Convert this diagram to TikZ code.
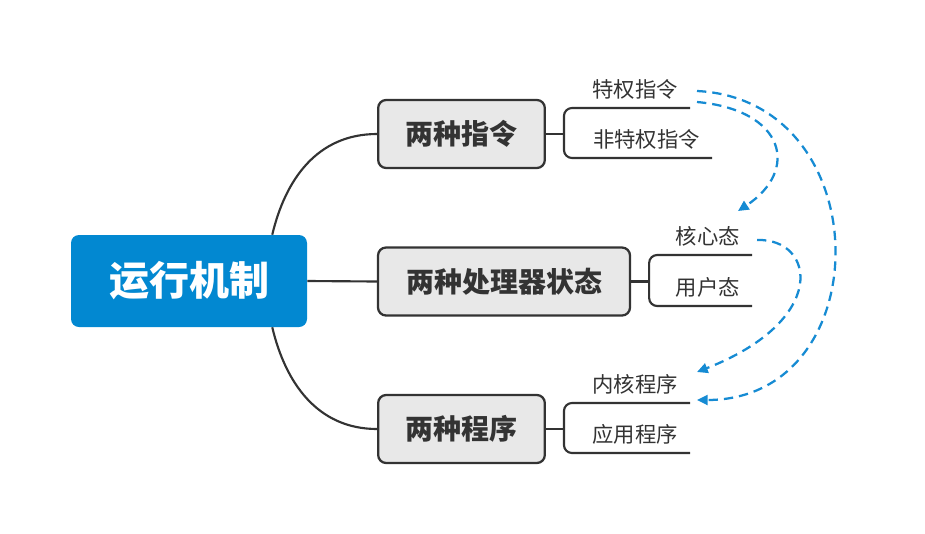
\documentclass[tikz,border=0pt]{standalone}
\usepackage{fontspec}
\setmainfont{Noto Sans CJK SC}
\usetikzlibrary{arrows.meta,calc}
\definecolor{rootblue}{HTML}{0288D1}
\definecolor{arrowblue}{HTML}{168BD3}
\definecolor{boxgray}{HTML}{E8E8E8}
\definecolor{linegray}{HTML}{333333}
\definecolor{textgray}{HTML}{333333}

\begin{document}
\begin{tikzpicture}[x=0.75pt,y=-0.75pt,
 root/.style={rounded corners=6pt,fill=rootblue,text=white,minimum width=177pt,minimum height=69pt,font=\fontsize{30}{32}\selectfont\bfseries},
 box/.style={rounded corners=6pt,draw=linegray,line width=1.7pt,fill=boxgray,minimum height=51pt,text=textgray,font=\fontsize{21}{24}\selectfont\bfseries},
 leaf/.style={anchor=south east,inner xsep=9pt,inner ysep=6.5pt,text=textgray,font=\fontsize{16}{18}\selectfont},
 ln/.style={line width=1.6pt,draw=linegray},
 dsh/.style={-{Triangle[length=8pt,width=7.5pt]},line width=1.7pt,dash pattern=on 7pt off 4.5pt,arrowblue}]
\useasboundingbox (0,0) rectangle (925,533);

\node[root] (root) at (189,281) {运行机制};
\node[box,minimum width=125pt] (b1) at (461.5,134) {两种指令};
\node[box,minimum width=189pt] (b2) at (504,281.5) {两种处理器状态};
\node[box,minimum width=125pt] (b3) at (461.5,429) {两种程序};

\draw[ln] ($(root.north east)+(-35,0)$) .. controls +(13,-55) and +(-60,0) .. (b1.west);
\draw[ln] (root.east) -- (b2.west);
\draw[ln] ($(root.south east)+(-35,0)$) .. controls +(13,55) and +(-60,0) .. (b3.west);

% leaves
\node[leaf] (l1) at (690,108) {特权指令};
\node[leaf] (l2) at (712,158) {非特权指令};
\node[leaf] (l3) at (752,255) {核心态};
\node[leaf] (l4) at (752,306) {用户态};
\node[leaf] (l5) at (690,403) {内核程序};
\node[leaf] (l6) at (690,453) {应用程序};

\draw[ln] (b1.east) -- ++(18,0) coordinate (k1);
\draw[ln] (b2.east) -- ++(18,0) coordinate (k2);
\draw[ln] (b3.east) -- ++(18,0) coordinate (k3);
\draw[ln,rounded corners=6pt] (l1.south east) -| (k1) |- (l2.south east);
\draw[ln,rounded corners=6pt] (l3.south east) -| (k2) |- (l4.south east);
\draw[ln,rounded corners=6pt] (l5.south east) -| (k3) |- (l6.south east);

% dashed links
\draw[dsh] ($(l1.south east)+(7,-6)$) .. controls +(88,8) and +(62,-41) .. ($(l3.south east)+(-14,-44)$);
\draw[dsh] ($(l1.south east)+(7,-17)$) .. controls +(183,9) and +(183,0) .. ($(l5.south east)+(7,-3)$);
\draw[dsh] ($(l3.south east)+(5,-15)$) .. controls +(58,-2) and +(133,-52) .. ($(l5.south east)+(7,-31)$);
\end{tikzpicture}
\end{document}
